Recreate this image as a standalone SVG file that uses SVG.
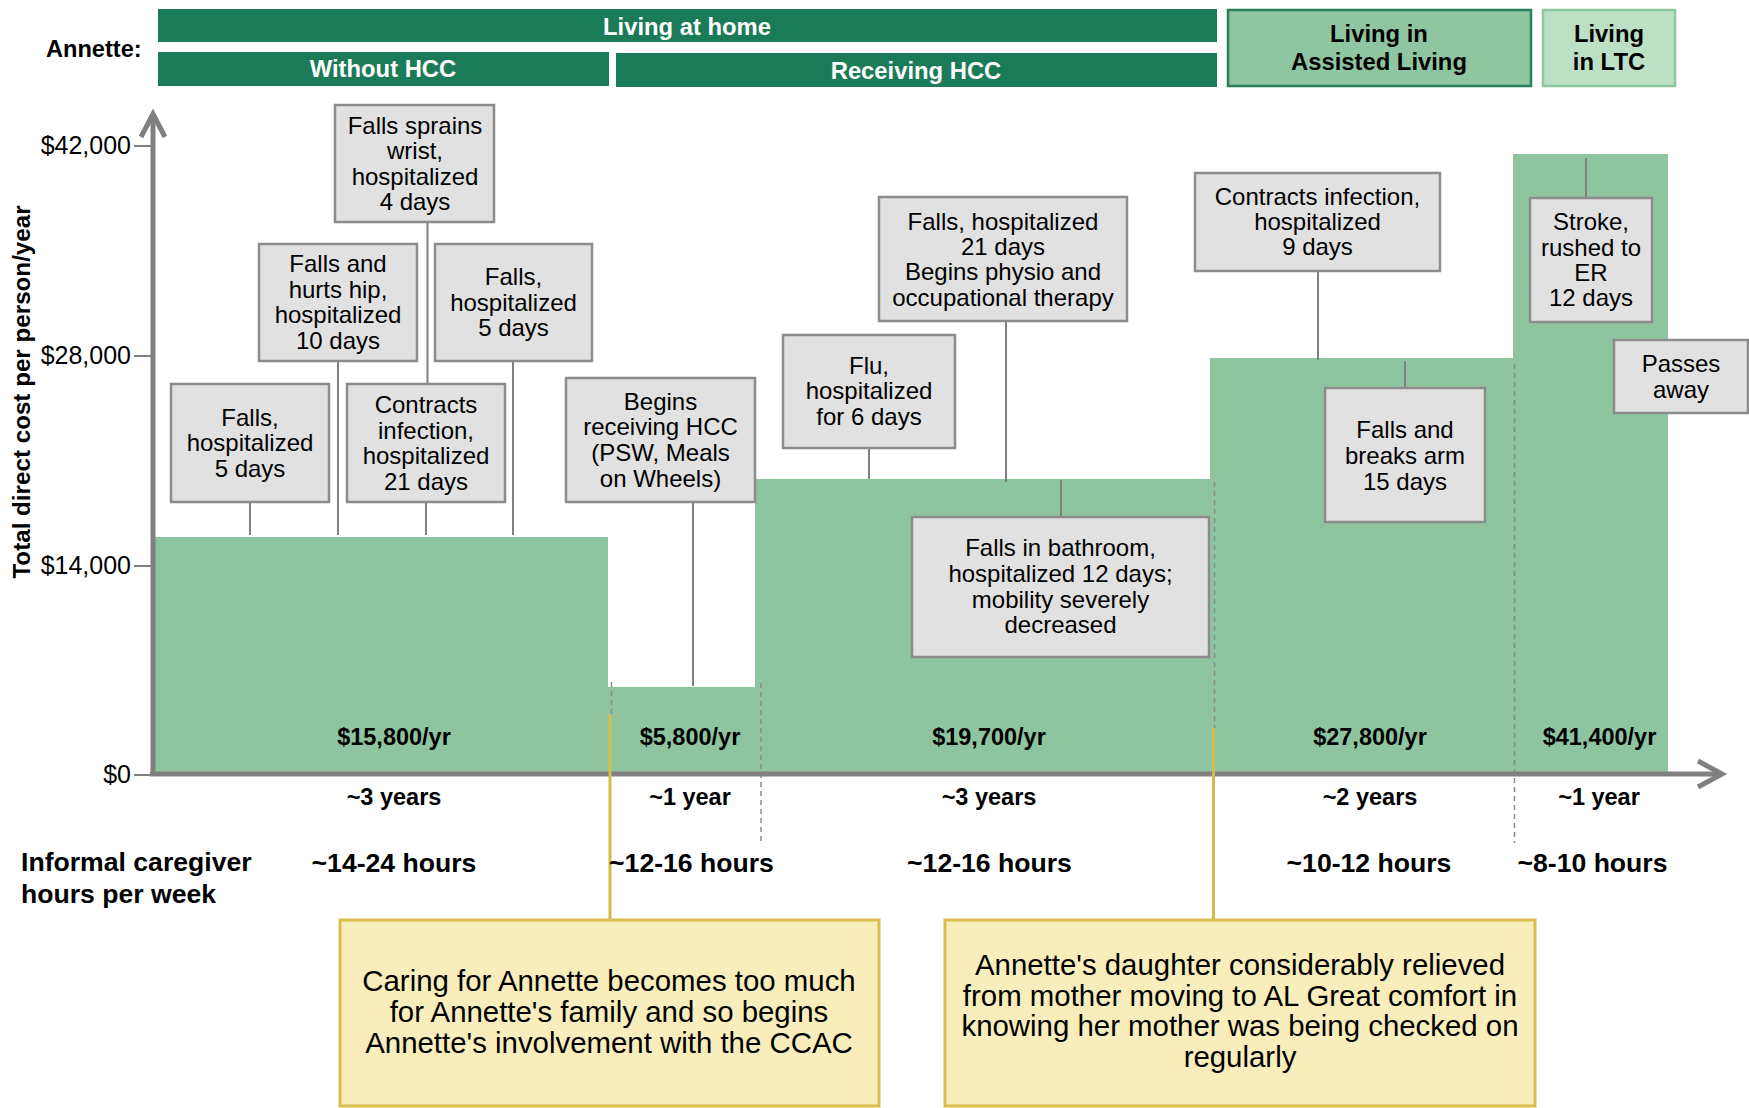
<svg xmlns="http://www.w3.org/2000/svg" width="1749" height="1108" viewBox="0 0 1749 1108">
<style>
text{font-family:"Liberation Sans",Arial,sans-serif;}
.hd{font-size:23.8px;font-weight:bold;fill:#fff;text-anchor:middle;}
.hdk{font-size:23.8px;font-weight:bold;fill:#000;text-anchor:middle;}
.bar{fill:#1b7a58;}
.box rect{fill:#e1e1e1;stroke:#8c8c8c;stroke-width:2.5;}
.box text{font-size:24px;fill:#000;text-anchor:middle;}
.conn line{stroke:#808080;stroke-width:2;}
.conn line.yl{stroke:#d6bb48;stroke-width:3;}
.dash{stroke:#8a8a8a;stroke-width:1.5;stroke-dasharray:5 4;fill:none;}
.ybox rect{fill:#f8edbb;stroke:#d9bd4d;stroke-width:3;}
.ybox text{font-size:29.4px;fill:#000;text-anchor:middle;}
.tick{font-size:25px;fill:#000;text-anchor:end;}
.lbl{font-size:23.5px;font-weight:bold;fill:#000;text-anchor:middle;}
.hrs{font-size:26.6px;font-weight:bold;fill:#000;text-anchor:middle;}
.axis{stroke:#808080;stroke-width:5;fill:none;}
</style>

<!-- header -->
<g id="header">
<text x="46" y="57" style="font-size:23.6px;font-weight:bold;fill:#000">Annette:</text>
<g id="living-at-home"><rect class="bar" x="158" y="9" width="1059" height="33"/><text class="hd" x="687" y="35">Living at home</text></g>
<g id="without-hcc"><rect class="bar" x="158" y="52" width="451" height="34"/><text class="hd" x="383" y="77">Without HCC</text></g>
<g id="receiving-hcc"><rect class="bar" x="616" y="53" width="601" height="34"/><text class="hd" x="916" y="78.5">Receiving HCC</text></g>
<g id="assisted-living"><rect x="1228" y="10" width="303" height="76" fill="#8fc6a1" stroke="#2a7f5e" stroke-width="2.5"/><text class="hdk" x="1379" y="41.5">Living in</text><text class="hdk" x="1379" y="70">Assisted Living</text></g>
<g id="ltc"><rect x="1543" y="10" width="132" height="76" fill="#bce0c6" stroke="#8cc9a0" stroke-width="2.5"/><text class="hdk" x="1609" y="41.5">Living</text><text class="hdk" x="1609" y="70">in LTC</text></g>
</g>

<!-- cost area -->
<path id="cost-area" d="M152,775 V537 H608 V687 H755 V479 H1210 V358 H1513 V154 H1668 V776 H152 Z" fill="#8ec5a0"/>

<!-- dashed separators -->
<g id="separators">
<line class="dash" x1="611.5" y1="682" x2="611.5" y2="714"/>
<line class="dash" x1="761" y1="683" x2="761" y2="843"/>
<line class="dash" x1="1214.5" y1="482" x2="1214.5" y2="728"/>
<line class="dash" x1="1514.5" y1="364" x2="1514.5" y2="843"/>
</g>

<!-- axes -->
<g id="axes">
<line class="axis" x1="153" y1="116" x2="153" y2="776"/>
<polyline class="axis" points="141,137 153,114 165,137"/>
<line class="axis" x1="150" y1="774" x2="1721" y2="774"/>
<polyline class="axis" points="1698,761 1722,774 1698,787"/>
<g stroke="#808080" stroke-width="2">
<line x1="134" y1="146" x2="153" y2="146"/>
<line x1="134" y1="356" x2="153" y2="356"/>
<line x1="134" y1="566" x2="153" y2="566"/>
<line x1="134" y1="775" x2="153" y2="775"/>
</g>
<text class="tick" x="131" y="154">$42,000</text>
<text class="tick" x="131" y="364">$28,000</text>
<text class="tick" x="131" y="574">$14,000</text>
<text class="tick" x="131" y="783">$0</text>
<text transform="translate(30,392) rotate(-90)" style="font-size:24.2px;font-weight:bold;text-anchor:middle">Total direct cost per person/year</text>
</g>

<!-- connectors -->
<g id="connectors" class="conn">
<line x1="250" y1="502" x2="250" y2="535"/>
<line x1="338" y1="361" x2="338" y2="535"/>
<line x1="427.5" y1="222" x2="427.5" y2="384"/>
<line x1="426" y1="502" x2="426" y2="535"/>
<line x1="513" y1="361" x2="513" y2="535"/>
<line x1="693" y1="502" x2="693" y2="686"/>
<line x1="869" y1="448" x2="869" y2="479"/>
<line x1="1006" y1="321" x2="1006" y2="482"/>
<line x1="1061" y1="480" x2="1061" y2="517"/>
<line x1="1318" y1="271" x2="1318" y2="360"/>
<line x1="1405" y1="361" x2="1405" y2="388"/>
<line x1="1586" y1="158" x2="1586" y2="198"/>
<line class="yl" x1="610" y1="714" x2="610" y2="920"/>
<line class="yl" x1="1213.5" y1="728" x2="1213.5" y2="920"/>
</g>

<!-- event boxes -->
<g id="ev-falls-5a" class="box"><rect x="171" y="384" width="158" height="118"/><text x="250" y="425.5">Falls,</text><text x="250" y="451">hospitalized</text><text x="250" y="476.5">5 days</text></g>
<g id="ev-hip" class="box"><rect x="259" y="244" width="158" height="117"/><text x="338" y="272">Falls and</text><text x="338" y="297.5">hurts hip,</text><text x="338" y="323">hospitalized</text><text x="338" y="348.5">10 days</text></g>
<g id="ev-wrist" class="box"><rect x="335" y="105" width="159" height="117"/><text x="415" y="133.5">Falls sprains</text><text x="415" y="159">wrist,</text><text x="415" y="184.5">hospitalized</text><text x="415" y="210">4 days</text></g>
<g id="ev-falls-5b" class="box"><rect x="435" y="244" width="157" height="117"/><text x="513.5" y="285">Falls,</text><text x="513.5" y="310.5">hospitalized</text><text x="513.5" y="336">5 days</text></g>
<g id="ev-infection-21" class="box"><rect x="347" y="384" width="158" height="118"/><text x="426" y="413">Contracts</text><text x="426" y="438.5">infection,</text><text x="426" y="464">hospitalized</text><text x="426" y="489.5">21 days</text></g>
<g id="ev-hcc" class="box"><rect x="566" y="378" width="189" height="124"/><text x="660.5" y="409.5">Begins</text><text x="660.5" y="435">receiving HCC</text><text x="660.5" y="461">(PSW, Meals</text><text x="660.5" y="486.5">on Wheels)</text></g>
<g id="ev-flu" class="box"><rect x="783" y="335" width="172" height="113"/><text x="869" y="373.5">Flu,</text><text x="869" y="399">hospitalized</text><text x="869" y="425">for 6 days</text></g>
<g id="ev-physio" class="box"><rect x="879" y="197" width="248" height="124"/><text x="1003" y="229.5">Falls, hospitalized</text><text x="1003" y="254.5">21 days</text><text x="1003" y="280">Begins physio and</text><text x="1003" y="305.5">occupational therapy</text></g>
<g id="ev-bathroom" class="box"><rect x="912" y="517" width="297" height="140"/><text x="1060.5" y="556">Falls in bathroom,</text><text x="1060.5" y="581.5">hospitalized 12 days;</text><text x="1060.5" y="607.5">mobility severely</text><text x="1060.5" y="633">decreased</text></g>
<g id="ev-infection-9" class="box"><rect x="1195" y="173" width="245" height="98"/><text x="1317.5" y="204.5">Contracts infection,</text><text x="1317.5" y="230">hospitalized</text><text x="1317.5" y="255">9 days</text></g>
<g id="ev-arm" class="box"><rect x="1325" y="388" width="160" height="134"/><text x="1405" y="438">Falls and</text><text x="1405" y="463.5">breaks arm</text><text x="1405" y="489.5">15 days</text></g>
<g id="ev-stroke" class="box"><rect x="1530" y="198" width="122" height="124"/><text x="1591" y="230">Stroke,</text><text x="1591" y="255.5">rushed to</text><text x="1591" y="281">ER</text><text x="1591" y="306">12 days</text></g>
<g id="ev-passes" class="box"><rect x="1614" y="340" width="134" height="73"/><text x="1681" y="372">Passes</text><text x="1681" y="397.5">away</text></g>

<!-- period labels -->
<g id="period-labels">
<text class="lbl" x="394" y="745">$15,800/yr</text>
<text class="lbl" x="690" y="745">$5,800/yr</text>
<text class="lbl" x="989" y="745">$19,700/yr</text>
<text class="lbl" x="1370" y="745">$27,800/yr</text>
<text class="lbl" x="1599.5" y="745">$41,400/yr</text>
<text class="lbl" x="394" y="805">~3 years</text>
<text class="lbl" x="690" y="805">~1 year</text>
<text class="lbl" x="989" y="805">~3 years</text>
<text class="lbl" x="1370" y="805">~2 years</text>
<text class="lbl" x="1599" y="805">~1 year</text>
<text style="font-size:26.6px;font-weight:bold" x="21" y="871">Informal caregiver</text>
<text style="font-size:26.6px;font-weight:bold" x="21" y="902.5">hours per week</text>
<text class="hrs" x="394" y="872">~14-24 hours</text>
<text class="hrs" x="691.5" y="872">~12-16 hours</text>
<text class="hrs" x="989.5" y="872">~12-16 hours</text>
<text class="hrs" x="1369" y="872">~10-12 hours</text>
<text class="hrs" x="1592.5" y="872">~8-10 hours</text>
</g>

<!-- notes -->
<g id="note-ccac" class="ybox"><rect x="340" y="920" width="539" height="186"/><text x="609" y="991">Caring for Annette becomes too much</text><text x="609" y="1022">for Annette's family and so begins</text><text x="609" y="1053">Annette's involvement with the CCAC</text></g>
<g id="note-al" class="ybox"><rect x="945" y="920" width="590" height="186"/><text x="1240" y="975">Annette's daughter considerably relieved</text><text x="1240" y="1005.5">from mother moving to AL Great comfort in</text><text x="1240" y="1036">knowing her mother was being checked on</text><text x="1240" y="1066.5">regularly</text></g>
</svg>
